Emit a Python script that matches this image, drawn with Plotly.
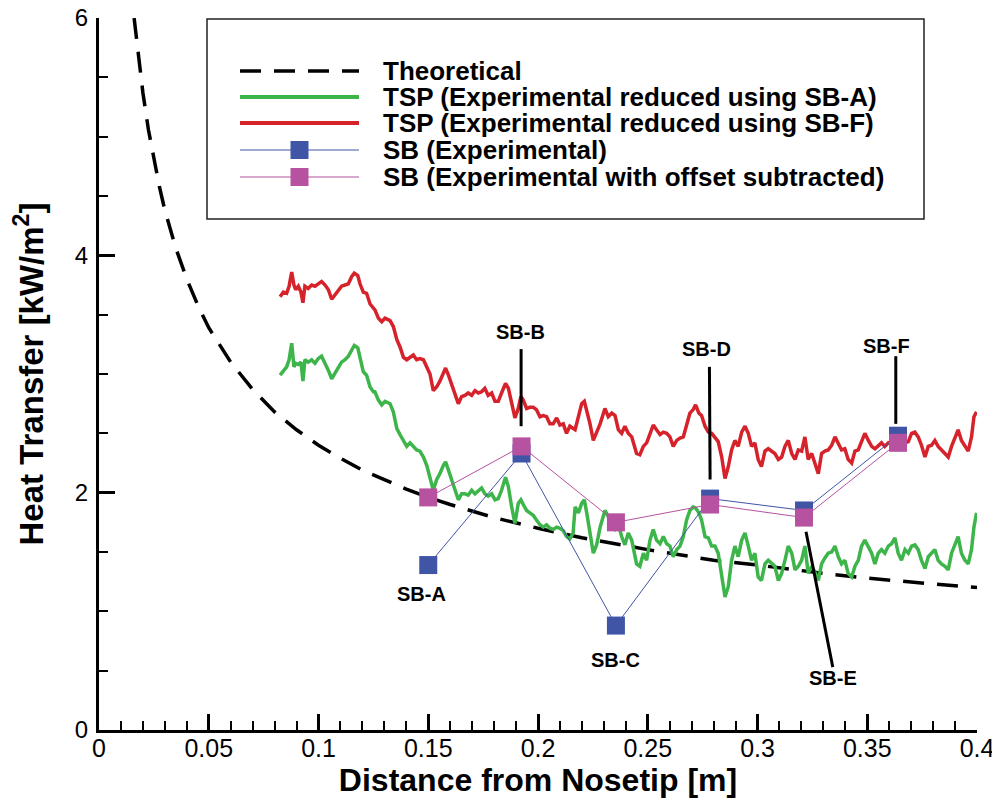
import plotly.graph_objects as go

# ---------------- data ----------------
theory_x = [0.016, 0.018, 0.02, 0.0225, 0.025, 0.0275, 0.03, 0.035, 0.04, 0.045, 0.05, 0.06, 0.07,
            0.08, 0.09, 0.1, 0.11, 0.12, 0.13, 0.14, 0.15, 0.16, 0.18, 0.2, 0.22, 0.25, 0.28, 0.3,
            0.33, 0.35, 0.38, 0.4]
theory_y = [6.00, 5.66, 5.37, 5.06, 4.80, 4.58, 4.38, 4.06, 3.80, 3.58, 3.39, 3.10, 2.87,
            2.68, 2.53, 2.40, 2.29, 2.19, 2.11, 2.03, 1.96, 1.90, 1.79, 1.70, 1.62, 1.52, 1.43, 1.39,
            1.32, 1.28, 1.23, 1.20]

tsp_x = [
    0.0825, 0.0840, 0.0855, 0.0866, 0.0878, 0.0888, 0.0896, 0.0908, 0.0920, 0.0929, 0.0938, 0.0953,
    0.0969, 0.0984, 0.0999, 0.1014, 0.1030, 0.1045, 0.1060, 0.1075, 0.1090, 0.1105, 0.1121, 0.1136,
    0.1151, 0.1163, 0.1179, 0.1189, 0.1204, 0.1219, 0.1235, 0.1250,
    0.1257, 0.1273, 0.1288, 0.1303, 0.1326, 0.1341, 0.1357, 0.1371, 0.1387, 0.1402, 0.1417, 0.1432,
    0.1447, 0.1462, 0.1478, 0.1493, 0.1508, 0.1523, 0.1538, 0.1553, 0.1569, 0.1579, 0.1592, 0.1607,
    0.1622, 0.1637, 0.1652, 0.1667, 0.1682, 0.1698, 0.1713, 0.1728, 0.1743, 0.1758, 0.1773, 0.1789,
    0.1804, 0.1819, 0.1834, 0.1852, 0.1865, 0.1880, 0.1895, 0.1910, 0.1922, 0.1933, 0.1948, 0.1963,
    0.1978, 0.1993, 0.2009, 0.2024, 0.2039, 0.2054, 0.2069, 0.2085, 0.2100, 0.2115, 0.2130, 0.2145,
    0.2160,
    0.2169, 0.2184, 0.2199, 0.2211, 0.2222, 0.2237, 0.2252, 0.2267, 0.2283, 0.2305, 0.2320, 0.2336,
    0.2351, 0.2366, 0.2381, 0.2396, 0.2411, 0.2427, 0.2449, 0.2464, 0.2480, 0.2495, 0.2510, 0.2525,
    0.2540, 0.2556, 0.2571, 0.2586, 0.2601, 0.2616, 0.2632, 0.2647, 0.2662, 0.2677, 0.2692, 0.2707,
    0.2718, 0.2733, 0.2745, 0.2761, 0.2776, 0.2791, 0.2806, 0.2821, 0.2837, 0.2852, 0.2867, 0.2882,
    0.2897, 0.2912, 0.2928, 0.2943, 0.2958, 0.2973, 0.2988, 0.3003, 0.3018, 0.3034, 0.3049, 0.3064,
    0.3079,
    0.3095, 0.3110, 0.3125, 0.3140, 0.3156, 0.3171, 0.3186, 0.3201, 0.3216, 0.3231, 0.3247, 0.3262,
    0.3277, 0.3292, 0.3307, 0.3322, 0.3338, 0.3353, 0.3368, 0.3383, 0.3398, 0.3413, 0.3429, 0.3444,
    0.3459, 0.3474, 0.3489, 0.3505, 0.3520, 0.3535, 0.3550, 0.3565, 0.3580, 0.3596, 0.3611, 0.3626,
    0.3641, 0.3656, 0.3672, 0.3687, 0.3702, 0.3717, 0.3732, 0.3747, 0.3763, 0.3778, 0.3793, 0.3808,
    0.3823, 0.3838, 0.3854, 0.3869, 0.3884, 0.3899, 0.3914, 0.3929, 0.3945, 0.3960, 0.3975, 0.3986,
    0.3998]

tsp_sba_y = [
    2.99, 3.03, 3.06, 3.12, 3.26, 3.06, 3.09, 3.08, 3.10, 2.94, 3.12, 3.10,
    3.12, 3.09, 3.13, 3.15, 3.09, 3.03, 2.96, 3.01, 3.06, 3.10, 3.12, 3.15,
    3.20, 3.24, 3.22, 3.15, 3.02, 2.99, 2.89, 2.85,
    2.85, 2.78, 2.74, 2.77, 2.75, 2.68, 2.54, 2.49, 2.43, 2.39, 2.42, 2.39,
    2.36, 2.35, 2.30, 2.23, 2.13, 2.02, 2.11, 2.16, 2.23, 2.26, 2.19, 2.11,
    2.02, 1.94, 1.99, 1.99, 1.98, 2.02, 1.99, 2.02, 2.04, 1.99, 1.97, 1.99,
    1.94, 1.95, 2.02, 2.13, 2.05, 1.88, 1.74, 1.91, 1.94, 1.90, 1.85, 1.83,
    1.81, 1.77, 1.73, 1.71, 1.73, 1.70, 1.69, 1.71, 1.70, 1.68, 1.63, 1.61,
    1.66,
    1.88, 1.83, 1.91, 1.94, 1.83, 1.66, 1.49, 1.56, 1.71, 1.85, 1.80, 1.71,
    1.69, 1.74, 1.63, 1.56, 1.66, 1.60, 1.40, 1.38, 1.49, 1.43, 1.60, 1.69,
    1.60, 1.57, 1.63, 1.57, 1.55, 1.46, 1.52, 1.55, 1.63, 1.77, 1.85, 1.88,
    1.87, 1.83, 1.77, 1.63, 1.62, 1.55, 1.55, 1.49, 1.29, 1.12, 1.21, 1.43,
    1.55, 1.46, 1.60, 1.66, 1.55, 1.43, 1.49, 1.29, 1.26, 1.40, 1.43, 1.40,
    1.38,
    1.26, 1.32, 1.43, 1.55, 1.49, 1.35, 1.38, 1.43, 1.55, 1.32, 1.38, 1.33,
    1.26, 1.40, 1.45, 1.49, 1.50, 1.55, 1.46, 1.40, 1.43, 1.32, 1.29, 1.38,
    1.43, 1.55, 1.60, 1.55, 1.49, 1.40, 1.49, 1.52, 1.49, 1.55, 1.57, 1.62,
    1.49, 1.43, 1.52, 1.49, 1.55, 1.56, 1.52, 1.43, 1.36, 1.46, 1.49, 1.52,
    1.43, 1.40, 1.38, 1.35, 1.49, 1.57, 1.63, 1.49, 1.43, 1.40, 1.52, 1.71,
    1.83]

tsp_sbf_y = [
    3.65, 3.69, 3.68, 3.74, 3.86, 3.75, 3.71, 3.74, 3.69, 3.60, 3.74, 3.72,
    3.75, 3.74, 3.76, 3.78, 3.75, 3.71, 3.63, 3.67, 3.71, 3.74, 3.75, 3.76,
    3.82, 3.85, 3.83, 3.76, 3.69, 3.68, 3.59, 3.55,
    3.54, 3.47, 3.44, 3.47, 3.45, 3.40, 3.29, 3.23, 3.14, 3.12, 3.14, 3.16,
    3.12, 3.13, 3.12, 3.06, 3.00, 2.86, 2.89, 2.94, 3.00, 3.05, 2.99, 2.91,
    2.82, 2.75, 2.81, 2.82, 2.84, 2.82, 2.86, 2.84, 2.85, 2.88, 2.82, 2.84,
    2.77, 2.77, 2.84, 2.92, 2.88, 2.75, 2.63, 2.71, 2.81, 2.78, 2.71, 2.72,
    2.72, 2.70, 2.64, 2.65, 2.64, 2.58, 2.58, 2.63, 2.57, 2.58, 2.50, 2.56,
    2.54,
    2.53, 2.64, 2.75, 2.77, 2.70, 2.58, 2.44, 2.50, 2.58, 2.71, 2.64, 2.67,
    2.65, 2.53, 2.50, 2.56, 2.50, 2.47, 2.33, 2.32, 2.39, 2.42, 2.50, 2.57,
    2.53, 2.49, 2.51, 2.50, 2.47, 2.39, 2.44, 2.46, 2.47, 2.58, 2.67, 2.70,
    2.74, 2.67, 2.65, 2.56, 2.51, 2.50, 2.47, 2.43, 2.30, 2.12, 2.22, 2.36,
    2.44, 2.39, 2.51, 2.56, 2.50, 2.39, 2.42, 2.28, 2.22, 2.35, 2.37, 2.35,
    2.33,
    2.28, 2.30, 2.39, 2.44, 2.33, 2.28, 2.36, 2.35, 2.47, 2.28, 2.33, 2.25,
    2.16, 2.33, 2.35, 2.36, 2.40, 2.47, 2.42, 2.36, 2.37, 2.28, 2.25, 2.35,
    2.36, 2.44, 2.50, 2.44, 2.39, 2.37, 2.40, 2.42, 2.39, 2.42, 2.43, 2.45,
    2.41, 2.40, 2.42, 2.43, 2.50, 2.51, 2.47, 2.40, 2.30, 2.39, 2.40, 2.44,
    2.39, 2.36, 2.33, 2.30, 2.39, 2.47, 2.53, 2.44, 2.39, 2.35, 2.47, 2.64,
    2.68]

sb_x = [0.150, 0.1925, 0.2355, 0.2784, 0.3212, 0.3640]
sb_exp_y = [1.39, 2.33, 0.88, 1.95, 1.85, 2.48]
sb_offset_y = [1.96, 2.39, 1.75, 1.90, 1.79, 2.42]
sb_labels = ["SB-A", "SB-B", "SB-C", "SB-D", "SB-E", "SB-F"]

x_tick_vals = [0, 0.05, 0.1, 0.15, 0.2, 0.25, 0.3, 0.35, 0.4]
x_tick_text = ["0", "0.05", "0.1", "0.15", "0.2", "0.25", "0.3", "0.35", "0.4"]
x_minor_vals = [0.01, 0.02, 0.03, 0.04, 0.06, 0.07, 0.08, 0.09, 0.11, 0.12, 0.13, 0.14,
                0.16, 0.17, 0.18, 0.19, 0.21, 0.22, 0.23, 0.24, 0.26, 0.27, 0.28, 0.29,
                0.31, 0.32, 0.33, 0.34, 0.36, 0.37, 0.38, 0.39]
y_tick_vals = [0, 2, 4, 6]
y_tick_text = ["0", "2", "4", "6"]
y_minor_vals = [0.5, 1.0, 1.5, 2.5, 3.0, 3.5, 4.5, 5.0, 5.5]

legend_names = ["Theoretical",
                "TSP (Experimental reduced using SB-A)",
                "TSP (Experimental reduced using SB-F)",
                "SB (Experimental)",
                "SB (Experimental with offset subtracted)"]

# ---------------- style / layout ----------------
FONT = "Liberation Sans, Arial, Helvetica, sans-serif"
GREEN = "#3db54a"
RED = "#d6222a"
BLUE = "#4055a6"
MAGENTA = "#b6529f"

OFF = 8                      # page body margin in the browser
W, H = 1000 - OFF, 805 - OFF
ML, MR, MT, MB = 99 - OFF, 23, 18 - OFF, 75
PW = W - ML - MR
PH = H - MT - MB


def pxx(xp):   # page pixel x -> paper
    return (xp - OFF - ML) / PW


def pxy(yp):   # page pixel y -> paper
    return (H - MB - (yp - OFF)) / PH


fig = go.Figure()
fig.add_trace(go.Scatter(x=theory_x, y=theory_y, mode="lines", name=legend_names[0],
                         line=dict(color="black", width=3.5, dash="21px,13px")))
fig.add_trace(go.Scatter(x=tsp_x, y=tsp_sba_y, mode="lines", name=legend_names[1],
                         line=dict(color=GREEN, width=3.5)))
fig.add_trace(go.Scatter(x=tsp_x, y=tsp_sbf_y, mode="lines", name=legend_names[2],
                         line=dict(color=RED, width=3.5)))
fig.add_trace(go.Scatter(x=sb_x, y=sb_exp_y, mode="lines+markers", name=legend_names[3],
                         line=dict(color=BLUE, width=1),
                         marker=dict(symbol="square", size=18, color=BLUE, line=dict(width=0))))
fig.add_trace(go.Scatter(x=sb_x, y=sb_offset_y, mode="lines+markers", name=legend_names[4],
                         line=dict(color=MAGENTA, width=1),
                         marker=dict(symbol="square", size=18, color=MAGENTA, line=dict(width=0))))

shapes = []
annotations = []

# label placement for SB annotations: (text x, text y, leader line x0, y0, x1, y1)
label_layout = [
    (0.1470, 1.15, None),
    (0.1918, 3.35, (0.1923, 3.21, 0.1923, 2.56)),
    (0.2351, 0.59, None),
    (0.2768, 3.21, (0.2781, 3.06, 0.2784, 2.11)),
    (0.3345, 0.44, (0.3221, 1.67, 0.3343, 0.53)),
    (0.3589, 3.24, (0.3630, 3.15, 0.3630, 2.58)),
]
for lab, (tx, ty, ln) in zip(sb_labels, label_layout):
    annotations.append(dict(x=tx, y=ty, xref="x", yref="y", text="<b>%s</b>" % lab,
                            showarrow=False, xanchor="center", yanchor="middle",
                            font=dict(family=FONT, size=20, color="black")))
    if ln:
        shapes.append(dict(type="line", xref="x", yref="y", x0=ln[0], y0=ln[1], x1=ln[2], y1=ln[3],
                           line=dict(color="black", width=3)))

# manual legend
shapes.append(dict(type="rect", xref="paper", yref="paper", x0=pxx(207), x1=pxx(924),
                   y0=pxy(219), y1=pxy(19), line=dict(color="#222222", width=1.5),
                   fillcolor="white", layer="below"))
rows = [71, 97, 123, 150, 177]
sym_x0, sym_x1, txt_x = 240, 359, 381
styles = [
    dict(color="black", width=3.5, dash="21px,13px"),
    dict(color=GREEN, width=4),
    dict(color=RED, width=4),
    dict(color=BLUE, width=1),
    dict(color=MAGENTA, width=1),
]
for i, (name, ry, st) in enumerate(zip(legend_names, rows, styles)):
    shapes.append(dict(type="line", xref="paper", yref="paper", x0=pxx(sym_x0), x1=pxx(sym_x1),
                       y0=pxy(ry), y1=pxy(ry), line=st))
    if i >= 3:
        cx = (sym_x0 + sym_x1) / 2
        shapes.append(dict(type="rect", xref="paper", yref="paper", x0=pxx(cx - 9), x1=pxx(cx + 9),
                           y0=pxy(ry + 9), y1=pxy(ry - 9), line=dict(width=0),
                           fillcolor=st["color"]))
    annotations.append(dict(x=pxx(txt_x), y=pxy(ry), xref="paper", yref="paper",
                            text="<b>%s</b>" % name, showarrow=False, xanchor="left",
                            yanchor="middle", font=dict(family=FONT, size=26, color="black")))

fig.update_layout(
    width=W, height=H, autosize=False,
    margin=dict(l=ML, r=MR, t=MT, b=MB, pad=0),
    paper_bgcolor="white", plot_bgcolor="white",
    showlegend=False,
    font=dict(family=FONT, color="black"),
    shapes=shapes, annotations=annotations,
    xaxis=dict(
        range=[0, 0.4], showgrid=False, zeroline=False,
        showline=True, linecolor="black", linewidth=3,
        ticks="inside", ticklen=16, tickwidth=3, tickcolor="black",
        tickmode="array", tickvals=x_tick_vals, ticktext=x_tick_text,
        tickfont=dict(family=FONT, size=25, color="black"),
        ticklabelstandoff=-6, ticklabeloverflow="allow",
        minor=dict(tickmode="array", tickvals=x_minor_vals, ticks="inside", ticklen=9,
                   tickwidth=1.5, tickcolor="black", showgrid=False),
        title=dict(text="<b>Distance from Nosetip [m]</b>",
                   font=dict(family=FONT, size=32, color="black"), standoff=4),
        automargin=False,
    ),
    yaxis=dict(
        range=[0, 6], showgrid=False, zeroline=False,
        showline=True, linecolor="black", linewidth=3,
        ticks="inside", ticklen=16, tickwidth=3, tickcolor="black",
        tickmode="array", tickvals=y_tick_vals, ticktext=y_tick_text,
        tickfont=dict(family=FONT, size=24, color="black"),
        ticklabelstandoff=3, ticklabeloverflow="allow",
        minor=dict(tickmode="array", tickvals=y_minor_vals, ticks="inside", ticklen=9,
                   tickwidth=1.5, tickcolor="black", showgrid=False),
        title=dict(text="<b>Heat Transfer [kW/m<sup>2</sup>]</b>",
                   font=dict(family=FONT, size=33, color="black"), standoff=22),
        automargin=False,
    ),
)

fig.write_html("out.html")
